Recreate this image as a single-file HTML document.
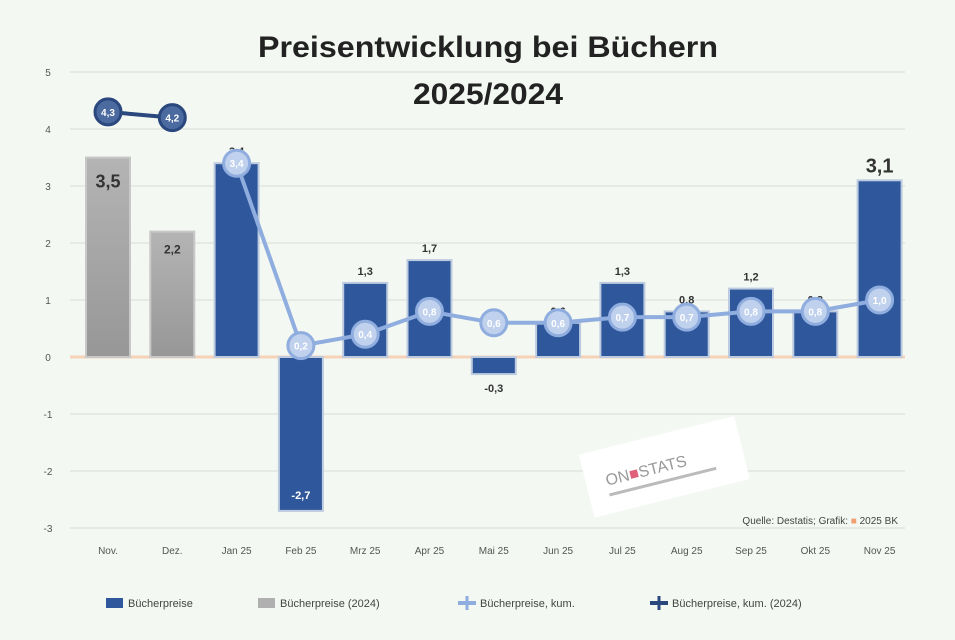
<!DOCTYPE html>
<html><head><meta charset="utf-8"><style>
body{margin:0;background:#f3f8f2;}
svg{display:block;font-family:"Liberation Sans",sans-serif;}
</style></head><body>
<svg id="c" width="955" height="640" viewBox="0 0 955 640">
<defs><linearGradient id="gg" x1="0" y1="0" x2="0" y2="1"><stop offset="0" stop-color="#b4b4b4"/><stop offset="1" stop-color="#979797"/></linearGradient></defs>
<rect x="0" y="0" width="955" height="640" fill="#f3f8f2"/>
<text x="488" y="57" text-anchor="middle" font-size="30" font-weight="bold" fill="#222" textLength="460" lengthAdjust="spacingAndGlyphs">Preisentwicklung bei Büchern</text>
<text x="488" y="104" text-anchor="middle" font-size="30" font-weight="bold" fill="#222" textLength="150" lengthAdjust="spacingAndGlyphs">2025/2024</text>
<g id="grid"></g>
<g id="watermark" transform="rotate(-14 662 470)">
<rect x="585" y="435" width="160" height="65" fill="#fff"/>
<text x="605" y="472" font-size="16" fill="#999">ON<tspan fill="#e0607a">■</tspan>STATS</text>
<rect x="605" y="480" width="110" height="3" fill="#bbb"/>
</g>
<g id="bars"></g>
<g id="lines"></g>
<text x="898" y="524" text-anchor="end" font-size="10" fill="#444">Quelle: Destatis; Grafik: <tspan fill="#f0a070">■</tspan> 2025 BK</text>
<g id="legend"></g>
</svg>
<script>
const categories=["Nov.","Dez.","Jan 25","Feb 25","Mrz 25","Apr 25","Mai 25","Jun 25","Jul 25","Aug 25","Sep 25","Okt 25","Nov 25"];
const prices2025=[null,null,3.4,-2.7,1.3,1.7,-0.3,0.6,1.3,0.8,1.2,0.8,3.1];
const prices2024=[3.5,2.2,null,null,null,null,null,null,null,null,null,null,null];
const cum2025=[null,null,3.4,0.2,0.4,0.8,0.6,0.6,0.7,0.7,0.8,0.8,1.0];
const cum2024=[4.3,4.2,null,null,null,null,null,null,null,null,null,null,null];
const yTicks=[5,4,3,2,1,0,-1,-2,-3];
const yTickLabels=["5","4","3","2","1","0","-1","-2","-3"];
const NS="http://www.w3.org/2000/svg";
const y0=357,unit=57,x0=108,step=64.3;
const Y=v=>y0-v*unit;
const X=i=>x0+i*step;
function mk(parent,tag,attrs,text){const e=document.createElementNS(NS,tag);for(const k in attrs)e.setAttribute(k,attrs[k]);if(text!==undefined)e.textContent=text;document.getElementById(parent).appendChild(e);return e;}
yTicks.forEach((t,i)=>{
  const l=mk('grid','line',{x1:70,x2:905,y1:Y(t),y2:Y(t),stroke:t===0?'#f5d2b8':'#e6eae5','stroke-width':t===0?3:2});
  
  
  const tx=mk('grid','text',{x:48,y:Y(t)+4,'text-anchor':'middle','font-size':10,fill:'#555'},yTickLabels[i]);
  
  
});
categories.forEach((c,i)=>{
  const t=mk('grid','text',{x:X(i),y:554,'text-anchor':'middle','font-size':10,fill:'#555'},c);
  
  
});
const bw=44;
function fmt(v){return v.toFixed(1).replace('.',',');}
prices2024.forEach((v,i)=>{
  if(v===null)return;
  const r=mk('bars','rect',{x:X(i)-bw/2,y:Y(v),width:bw,height:Y(0)-Y(v),fill:'url(#gg)',stroke:'#c8c8c8','stroke-width':2});
  
  
  const t=mk('bars','text',{x:X(i),y:Y(v)+(i===0?30:22),'text-anchor':'middle','font-size':i===0?18:12,'font-weight':'bold',fill:'#333'},fmt(v));
  
  
});
prices2025.forEach((v,i)=>{
  if(v===null)return;
  const top=Math.min(Y(v),Y(0)),h=Math.abs(Y(v)-Y(0));
  const r=mk('bars','rect',{x:X(i)-bw/2,y:top,width:bw,height:h,fill:'#2f579b',stroke:'#bccbe0','stroke-width':2});
  
  
  let ly=v>=0?Y(v)-8:Y(v)+18;
  if(v<-1)ly=Y(v)-12;
  const big=(i===12);
  const t=mk('bars','text',{x:X(i),y:ly,'text-anchor':'middle','font-size':big?20:11,'font-weight':'bold',fill:v<-1?'#fff':'#333'},fmt(v));
  
  
});
function line(data,color,fill,name){
  const pts=[];data.forEach((v,i)=>{if(v!==null)pts.push([X(i),Y(v),v]);});
  const p=mk('lines','polyline',{points:pts.map(p=>p[0]+','+p[1]).join(' '),fill:'none',stroke:color,'stroke-width':4});
  
  
  pts.forEach(q=>{
    const c=mk('lines','circle',{cx:q[0],cy:q[1],r:13,fill:fill,stroke:color,'stroke-width':3});
    
    
    const t=mk('lines','text',{x:q[0],y:q[1]+4,'text-anchor':'middle','font-size':10,'font-weight':'bold',fill:'#fff'},fmt(q[2]));
    
    
  });
}
line(cum2025,'#8fadde','#c0d1ee','cumulative-2025');
line(cum2024,'#2a477e','#4a6aa0','cumulative-2024');
const legendItems=[["Bücherpreise","#2f579b","bar",106],["Bücherpreise (2024)","#b0b0b0","bar",258],["Bücherpreise, kum.","#8fadde","line",458],["Bücherpreise, kum. (2024)","#2a477e","line",650]];
legendItems.forEach(it=>{
  const g=mk('legend','g',{});
  
  
  if(it[2]==='bar'){const r=document.createElementNS(NS,'rect');r.setAttribute('x',it[3]);r.setAttribute('y',598);r.setAttribute('width',17);r.setAttribute('height',10);r.setAttribute('fill',it[1]);g.appendChild(r);}
  else{const l=document.createElementNS(NS,'line');l.setAttribute('x1',it[3]);l.setAttribute('x2',it[3]+18);l.setAttribute('y1',603);l.setAttribute('y2',603);l.setAttribute('stroke',it[1]);l.setAttribute('stroke-width',4);g.appendChild(l);
    const c=document.createElementNS(NS,'line');c.setAttribute('x1',it[3]+9);c.setAttribute('x2',it[3]+9);c.setAttribute('y1',596);c.setAttribute('y2',610);c.setAttribute('stroke',it[1]);c.setAttribute('stroke-width',3);g.appendChild(c);}
  const t=document.createElementNS(NS,'text');t.setAttribute('x',it[3]+22);t.setAttribute('y',607);t.setAttribute('font-size',11);t.setAttribute('fill','#444');t.textContent=it[0];g.appendChild(t);
});
</script>
</body></html>
